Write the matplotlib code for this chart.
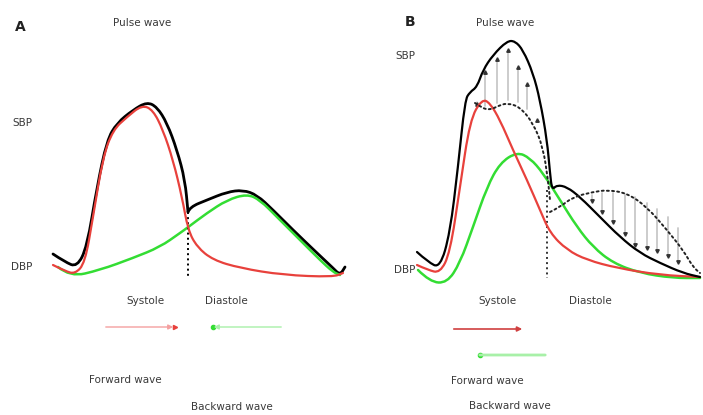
import numpy as np
import matplotlib
matplotlib.use("Agg")
import matplotlib.pyplot as plt
from matplotlib.path import Path
from matplotlib.patches import PathPatch

# Schematic pulse wave curves (pixel coords, y down)

# panel A
a_pulse_x = [53, 65, 77, 87, 97, 107, 117, 133, 147, 157, 167, 177, 185, 188]
a_pulse_y = [254, 262, 267, 247, 187, 140, 123, 110, 102, 107, 123, 150, 180, 212]
a_dia_x = [188, 190, 207, 227, 243, 257, 273, 293, 317, 333, 340, 345]
a_dia_y = [212, 207, 200, 192, 190, 195, 210, 230, 253, 268, 275, 267]
a_fwd_x = [53, 65, 75, 85, 93, 103, 113, 127, 142, 153, 163, 173, 182, 188, 197, 213, 240, 283, 333, 343]
a_fwd_y = [265, 271, 274, 263, 217, 157, 130, 117, 105, 110, 130, 160, 197, 230, 247, 260, 268, 275, 277, 273]
a_bwd_x = [58, 70, 100, 133, 160, 180, 187, 207, 227, 247, 260, 277, 300, 320, 333, 340]
a_bwd_y = [267, 277, 270, 258, 247, 233, 228, 213, 200, 194, 200, 217, 240, 260, 272, 275]
a_notch_x = 188

# panel B
b_pulse_x = [417, 428, 440, 450, 458, 465, 470, 477, 483, 493, 507, 515, 523, 533, 540, 547, 550, 552,
             557, 567, 580, 600, 620, 640, 660, 683, 700]
b_pulse_y = [252, 262, 268, 233, 167, 100, 92, 87, 70, 55, 41, 41, 50, 73, 100, 140, 173, 190,
             185, 187, 197, 217, 237, 253, 263, 273, 277]
b_sys_dot_x = [475, 482, 490, 498, 507, 520, 533, 543, 548, 550]
b_sys_dot_y = [103, 108, 110, 106, 103, 107, 123, 147, 180, 200]
b_dia_dot_x = [550, 560, 573, 593, 607, 627, 647, 667, 683, 693, 700]
b_dia_dot_y = [212, 207, 197, 192, 190, 193, 207, 230, 250, 267, 273]
b_fwd_x = [417, 428, 440, 450, 460, 470, 482, 490, 500, 513, 527, 540, 550, 567, 587, 617, 660, 700]
b_fwd_y = [265, 270, 273, 253, 187, 120, 99, 103, 120, 150, 180, 210, 233, 250, 260, 268, 275, 277]
b_bwd_x = [418, 430, 447, 460, 473, 487, 500, 517, 530, 543, 560, 577, 593, 613, 640, 673, 700]
b_bwd_y = [270, 282, 283, 263, 227, 187, 163, 152, 158, 173, 200, 227, 247, 263, 273, 278, 278]
b_notch_x = 547

# augmentation arrows in B: x, tail y, head y
b_up_x = [477, 485, 497, 508, 518, 527, 537]
b_up_tail = [106, 109, 106, 103, 105, 112, 124]
b_up_head = [102, 70, 57, 48, 65, 82, 118]
b_down_x = [592, 602, 613, 625, 635, 647, 657, 668, 678]
b_down_tail = [192, 190, 190, 191, 194, 200, 206, 214, 225]
b_down_head = [203, 214, 224, 236, 247, 250, 253, 258, 264]

RED = '#e8413c'
GREEN = '#33dd33'
TXT = '#3a3a3a'


def smooth(ax, xs, ys, **kw):
  # quadratic bezier through mid points, drawn by matplotlib itself
  pts = list(zip(xs, ys))
  verts = [pts[0]]
  codes = [Path.MOVETO]
  for i in range(1, len(pts) - 1):
    mid = ((pts[i][0] + pts[i+1][0]) / 2.0, (pts[i][1] + pts[i+1][1]) / 2.0)
    verts += [pts[i], mid]
    codes += [Path.CURVE3, Path.CURVE3]
  verts.append(pts[-1])
  codes.append(Path.LINETO)
  ax.add_patch(PathPatch(Path(verts, codes), fill=False, capstyle='round', joinstyle='round', **kw))


def label(ax, x, y, s, **kw):
  ax.text(x, y, s, ha='center', va='center', fontsize=7.5, color=TXT,
          family=['Liberation Sans Narrow', 'DejaVu Sans'], **kw)


def main():
  fig = plt.figure(figsize=(7.03, 4.15), dpi=100)
  ax = fig.add_axes([0, 0, 1, 1])
  ax.set_xlim(0, 703)
  ax.set_ylim(415, 0)
  ax.axis('off')

  # ---- panel A
  smooth(ax, a_bwd_x, a_bwd_y, edgecolor=GREEN, lw=1.8, zorder=2)
  smooth(ax, a_fwd_x, a_fwd_y, edgecolor=RED, lw=1.6, zorder=3)
  smooth(ax, a_pulse_x, a_pulse_y, edgecolor='black', lw=2.0, zorder=1)
  smooth(ax, a_dia_x, a_dia_y, edgecolor='black', lw=2.0, zorder=1)
  ax.vlines(a_notch_x, 212, 277, colors='black', linestyles=':', lw=1.4)

  # ---- panel B
  for x, t, h in zip(b_up_x, b_up_tail, b_up_head):
    ax.annotate('', xy=(x, h), xytext=(x, t),
                arrowprops=dict(arrowstyle='-', color='#b0b0b0', lw=0.9), zorder=1)
    ax.plot(x, h + 2, marker='^', color='#333333', ms=2.5, zorder=1)
  for x, t, h in zip(b_down_x, b_down_tail, b_down_head):
    ax.annotate('', xy=(x, h), xytext=(x, t),
                arrowprops=dict(arrowstyle='-', color='#b0b0b0', lw=0.9), zorder=1)
    ax.plot(x, h - 2, marker='v', color='#333333', ms=2.5, zorder=1)

  smooth(ax, b_bwd_x, b_bwd_y, edgecolor=GREEN, lw=1.8, zorder=2)
  smooth(ax, b_fwd_x, b_fwd_y, edgecolor=RED, lw=1.6, zorder=3)
  smooth(ax, b_pulse_x, b_pulse_y, edgecolor='black', lw=1.6, zorder=4)
  smooth(ax, b_sys_dot_x, b_sys_dot_y, edgecolor='#222222', lw=1.4, linestyle=':', zorder=4)
  smooth(ax, b_dia_dot_x, b_dia_dot_y, edgecolor='#222222', lw=1.4, linestyle=':', zorder=4)
  ax.vlines(b_notch_x, 190, 278, colors='#333333', linestyles=':', lw=1.4)

  # ---- texts
  ax.text(20, 27, 'A', ha='center', va='center', fontsize=10, fontweight='bold', color='#222222')
  ax.text(410, 22, 'B', ha='center', va='center', fontsize=10, fontweight='bold', color='#222222')
  label(ax, 142, 23, 'Pulse wave')
  label(ax, 505, 23, 'Pulse wave')
  label(ax, 22, 123, 'SBP')
  label(ax, 22, 267, 'DBP')
  label(ax, 405, 56, 'SBP')
  label(ax, 405, 270, 'DBP')
  label(ax, 145, 301, 'Systole')
  label(ax, 226, 301, 'Diastole')
  label(ax, 497, 301, 'Systole')
  label(ax, 590, 301, 'Diastole')
  label(ax, 125, 380, 'Forward wave')
  label(ax, 232, 407, 'Backward wave')
  label(ax, 487, 381, 'Forward wave')
  label(ax, 510, 406, 'Backward wave')

  # direction arrows
  ax.annotate('', xy=(176, 327), xytext=(103, 327),
              arrowprops=dict(arrowstyle='-|>', color='#f4a0a0', lw=1.0, mutation_scale=7))
  ax.plot(175, 327, '>', color=RED, ms=3)
  ax.annotate('', xy=(211, 327), xytext=(284, 327),
              arrowprops=dict(arrowstyle='-|>', color='#a8f0a8', lw=1.0, mutation_scale=7))
  ax.plot(213, 327, 'o', color=GREEN, ms=3)
  ax.annotate('', xy=(525, 329), xytext=(451, 329),
              arrowprops=dict(arrowstyle='-|>', color='#d04040', lw=1.2, mutation_scale=7))
  ax.annotate('', xy=(477, 355), xytext=(548, 355),
              arrowprops=dict(arrowstyle='-', color='#a8f0a8', lw=2.0))
  ax.plot(480, 355, 'o', color=GREEN, ms=3)

  fig.savefig('out.png', dpi=100)
  plt.close(fig)


if __name__ == "__main__":
  main()
